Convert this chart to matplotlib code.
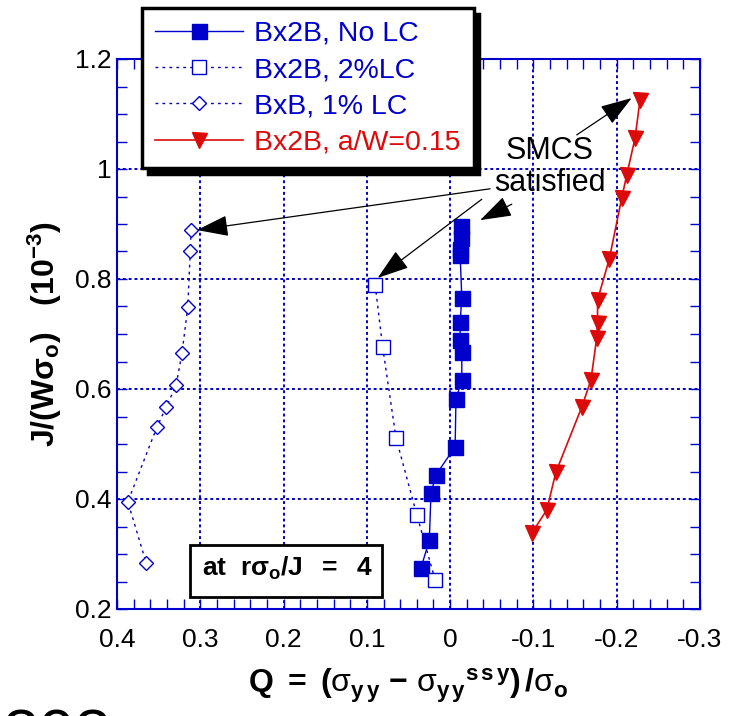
import matplotlib
matplotlib.use("Agg")
import matplotlib.pyplot as plt
from matplotlib.ticker import MultipleLocator

plt.rcParams['font.family'] = ['Liberation Sans', 'DejaVu Sans']
plt.rcParams['mathtext.fontset'] = 'custom'
plt.rcParams['mathtext.rm'] = 'Liberation Sans'
plt.rcParams['mathtext.it'] = 'Liberation Sans'
plt.rcParams['mathtext.bf'] = 'Liberation Sans:bold'

# ---- data ----
nolc_q = [-0.013, -0.013, -0.012, -0.012, -0.014, -0.012, -0.012, -0.014, -0.014,
          -0.007, -0.006, 0.017, 0.023, 0.025, 0.035]
nolc_j = [0.897, 0.875, 0.855, 0.843, 0.766, 0.721, 0.689, 0.667, 0.616,
          0.582, 0.495, 0.444, 0.411, 0.325, 0.275]

lc2_q = [0.090, 0.081, 0.065, 0.040, 0.018]
lc2_j = [0.789, 0.676, 0.511, 0.371, 0.253]

bxb_q = [0.311, 0.312, 0.315, 0.322, 0.329, 0.341, 0.352, 0.387, 0.365]
bxb_j = [0.889, 0.851, 0.749, 0.665, 0.607, 0.567, 0.531, 0.395, 0.284]

aw_q = [-0.228, -0.222, -0.212, -0.206, -0.191, -0.177, -0.177, -0.176, -0.169,
        -0.158, -0.127, -0.116, -0.098]
aw_j = [1.126, 1.056, 0.989, 0.947, 0.836, 0.762, 0.720, 0.693, 0.616,
        0.567, 0.449, 0.380, 0.338]

labels = ['Bx2B, No LC', 'Bx2B, 2%LC', 'BxB, 1% LC', 'Bx2B, a/W=0.15']
xticks = [0.4, 0.3, 0.2, 0.1, 0.0, -0.1, -0.2, -0.3]
xticklabels = ['0.4', '0.3', '0.2', '0.1', '0', '-0.1', '-0.2', '-0.3']
yticks = [0.2, 0.4, 0.6, 0.8, 1.0, 1.2]
yticklabels = ['0.2', '0.4', '0.6', '0.8', '1', '1.2']

BLUE = '#0000cc'
RED = '#dd0a0a'

fig = plt.figure(figsize=(7.43, 7.16), dpi=100)
ax = fig.add_axes([117/743, 1-609/716, (700-117)/743, (609-59)/716])

ax.set_xlim(0.4, -0.3)
ax.set_ylim(0.2, 1.2)

ax.plot(nolc_q, nolc_j, '-', color=BLUE, lw=1.0, marker='s', ms=10.8,
        mfc=BLUE, mec=BLUE, label=labels[0], zorder=4)
ax.plot(lc2_q, lc2_j, linestyle=(0, (2, 3)), color=BLUE, lw=1.0, marker='s', ms=10,
        mfc='white', mec=BLUE, mew=1.0, label=labels[1], zorder=4)
ax.plot(bxb_q, bxb_j, linestyle=(0, (2, 3)), color=BLUE, lw=1.0, marker='D', ms=7.6,
        mfc='white', mec=BLUE, mew=1.0, label=labels[2], zorder=4)
ax.plot(aw_q, aw_j, '-', color=RED, lw=1.2, marker='v', ms=10.8,
        mfc=RED, mec=RED, label=labels[3], zorder=4)

ax.set_xticks(xticks)
ax.set_xticklabels(xticklabels, fontsize=19)
ax.set_yticks(yticks)
ax.set_yticklabels(yticklabels, fontsize=19)
ax.xaxis.set_minor_locator(MultipleLocator(0.02))
ax.yaxis.set_minor_locator(MultipleLocator(0.05))
ax.tick_params(which='both', direction='in', top=True, right=True, color=BLUE, width=1.0)
ax.tick_params(which='major', length=7)
ax.tick_params(which='minor', length=7)
ax.tick_params(axis='y', pad=4)
ax.tick_params(axis='x', pad=14)
for s in ax.spines.values():
    s.set_color(BLUE)
    s.set_linewidth(1.5)
ax.grid(True, which='major', color=BLUE, linestyle=(0, (1.5, 1.5)), lw=1.4)

ax.set_xlabel(r'$\mathbf{Q\ =\ (}\mathrm{σ}_{\mathbf{y\,y}}\ \mathbf{-}\ \mathrm{σ}_{\mathbf{y\,y}}{}^{\mathbf{s\,s\,y}}\mathbf{)\,/}\mathrm{σ}_{\mathbf{o}}$',
              fontsize=23, labelpad=10)
ax.set_ylabel(r'$\mathbf{J/(Wσ_o)\ \ \ (10^{-3})}$', fontsize=23, labelpad=8)

leg = fig.legend(loc='upper left', bbox_to_anchor=(142/743, 1-8/716), fontsize=20.5,
                 frameon=True, fancybox=False, edgecolor='black', framealpha=1,
                 shadow={'color': 'black', 'alpha': 1, 'ox': 4, 'oy': -4},
                 handlelength=3.1, handletextpad=0.4, labelspacing=0.36, borderpad=0.45,
                 borderaxespad=0)
leg.get_frame().set_linewidth(2.5)
for t, c in zip(leg.get_texts(), [BLUE, BLUE, BLUE, RED]):
    t.set_color(c)

fig.patches.append(plt.Rectangle((190/743, 1-597/716), 192/743, 52/716, transform=fig.transFigure,
                                 facecolor='white', edgecolor='black', lw=2, zorder=5))
fig.text(287/743, 1-568/716, r'$\mathbf{at\ \ rσ_o/J\ \ =\ \ 4}$', fontsize=19,
         ha='center', va='center', zorder=6)

fig.text(550/743, 1-151/716, 'SMCS', fontsize=22, ha='center', va='center', zorder=7)
fig.text(550/743, 1-183/716, 'satisfied', fontsize=22, ha='center', va='center', zorder=7)

arrow_kw = dict(arrowstyle='-|>,head_length=0.9,head_width=0.3', color='black', lw=0.9,
                mutation_scale=22, shrinkA=0, shrinkB=0)
ax.annotate('', xy=(-0.218, 1.129), xytext=(-0.152, 1.062), arrowprops=arrow_kw, zorder=7)
ax.annotate('', xy=(-0.036, 0.907), xytext=(-0.074, 0.936), arrowprops=arrow_kw, zorder=7)
ax.annotate('', xy=(0.087, 0.802), xytext=(-0.038, 0.945), arrowprops=arrow_kw, zorder=7)
ax.annotate('', xy=(0.304, 0.889), xytext=(-0.048, 0.964), arrowprops=arrow_kw, zorder=7)

fig.text(2/743, 1-755/716, '808', fontsize=47, ha='left', va='baseline')

fig.savefig('out.png', dpi=100)
